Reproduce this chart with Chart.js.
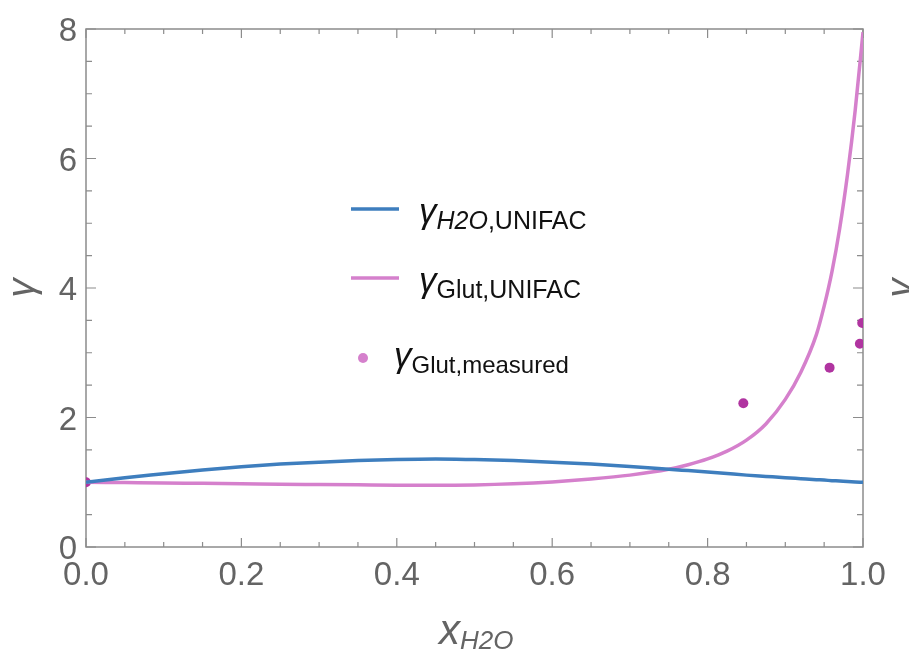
<!DOCTYPE html>
<html>
<head>
<meta charset="utf-8">
<script src="https://cdn.jsdelivr.net/npm/chart.js@4.4.1/dist/chart.umd.min.js"></script>
<style>
  html, body { margin: 0; padding: 0; background: #fff; }
  #wrap { width: 909px; height: 651px; }
</style>
</head>
<body>
<div id="wrap"><canvas id="gammaChart"></canvas></div>
<script>
// mole fraction of water and UNIFAC curves
const xGrid = [0, 0.05, 0.1, 0.15, 0.2, 0.25, 0.3, 0.35, 0.4, 0.45, 0.5, 0.55, 0.6, 0.65, 0.7, 0.75,
               0.775, 0.8, 0.825, 0.85, 0.875, 0.9, 0.92, 0.94, 0.95, 0.96, 0.97, 0.98, 0.99, 1.0];
const gammaWaterUnifac = [1.00, 1.07, 1.13, 1.19, 1.24, 1.28, 1.31, 1.335, 1.352, 1.36, 1.35, 1.335, 1.31, 1.28, 1.245, 1.20,
                          1.18, 1.16, 1.135, 1.11, 1.09, 1.07, 1.055, 1.04, 1.033, 1.025, 1.018, 1.01, 1.004, 1.00];
const gammaGlutUnifac = [1.00, 0.995, 0.99, 0.983, 0.977, 0.97, 0.965, 0.96, 0.955, 0.952, 0.958, 0.975, 1.005, 1.05, 1.11, 1.20,
                         1.27, 1.36, 1.48, 1.65, 1.90, 2.28, 2.70, 3.28, 3.72, 4.25, 4.92, 5.75, 6.75, 7.95];

// measured points
const xMeasured = [0, 0.846, 0.957, 0.996, 0.999];
const gammaGlutMeasured = [1.0, 2.22, 2.77, 3.14, 3.46];

const xTicks = [0, 0.2, 0.4, 0.6, 0.8, 1.0];
const yTicks = [0, 2, 4, 6, 8];

const blue = 'rgb(62,126,190)';
const pink = 'rgb(213,128,204)';
const dotColor = 'rgb(176,52,160)';
const axisGray = 'rgb(140,140,140)';
const labelGray = 'rgb(100,100,100)';
const fontFamily = '"Liberation Sans", Arial, sans-serif';

const toPoints = (xs, ys) => xs.map((x, i) => ({ x: x, y: ys[i] }));

// draw a run of text pieces: [text, font, dy]
function drawRuns(ctx, x, y, runs, color) {
    ctx.fillStyle = color;
    ctx.textBaseline = 'alphabetic';
    ctx.textAlign = 'left';
    runs.forEach(r => {
        ctx.font = r[1];
        ctx.fillText(r[0], x, y + (r[2] || 0));
        x += ctx.measureText(r[0]).width;
    });
}

const framePlugin = {
    id: 'frame',
    beforeDatasetsDraw(chart) {
        const { ctx, chartArea: a, scales } = chart;
        ctx.save();
        ctx.strokeStyle = axisGray;
        ctx.lineWidth = 1.5;
        ctx.strokeRect(a.left, a.top, a.right - a.left, a.bottom - a.top);
        ctx.lineWidth = 1.2;
        ctx.beginPath();
        for (let i = 0; i <= 20; i++) {
            const px = scales.x.getPixelForValue(i * 0.05);
            const len = i % 4 === 0 ? 9 : 5;
            ctx.moveTo(px, a.bottom); ctx.lineTo(px, a.bottom - len);
            ctx.moveTo(px, a.top); ctx.lineTo(px, a.top + len);
        }
        for (let i = 0; i <= 16; i++) {
            const py = scales.y.getPixelForValue(i * 0.5);
            const len = i % 4 === 0 ? 10 : 6;
            ctx.moveTo(a.left, py); ctx.lineTo(a.left + len, py);
            ctx.moveTo(a.right, py); ctx.lineTo(a.right - len, py);
        }
        ctx.stroke();
        ctx.restore();
    },
    afterDraw(chart) {
        const { ctx, chartArea: a } = chart;
        ctx.save();
        const gFont = 'italic 35px ' + fontFamily;
        const subFont = '25px ' + fontFamily;
        const subItal = 'italic 25px ' + fontFamily;

        // legend
        ctx.lineWidth = 3.5;
        ctx.strokeStyle = blue;
        ctx.beginPath(); ctx.moveTo(351, 209); ctx.lineTo(399, 209); ctx.stroke();
        drawRuns(ctx, 419, 223, [['γ', gFont], ['H2O', subItal, 6], [',UNIFAC', subFont, 6]], '#111');

        ctx.strokeStyle = pink;
        ctx.beginPath(); ctx.moveTo(351, 278); ctx.lineTo(399, 278); ctx.stroke();
        drawRuns(ctx, 419, 292, [['γ', gFont], ['Glut,UNIFAC', subFont, 6]], '#111');

        ctx.fillStyle = pink;
        ctx.beginPath(); ctx.arc(363, 358, 5, 0, Math.PI * 2); ctx.fill();
        drawRuns(ctx, 394, 367, [['γ', gFont], ['Glut,measured', '24px ' + fontFamily, 6]], '#111');

        // x axis title
        drawRuns(ctx, 439, 644, [['x', 'italic 42px ' + fontFamily], ['H2O', 'italic 26px ' + fontFamily, 5]], labelGray);

        // y axis title (and the cut-off one of the neighbouring panel)
        const midY = (a.top + a.bottom) / 2;
        [27, 906].forEach(cx => {
            ctx.save();
            ctx.translate(cx, midY);
            ctx.rotate(-Math.PI / 2);
            ctx.font = 'italic 38px ' + fontFamily;
            ctx.fillStyle = labelGray;
            ctx.textAlign = 'center';
            ctx.textBaseline = 'middle';
            ctx.fillText('γ', 0, -4);
            ctx.restore();
        });
        ctx.restore();
    }
};

new Chart(document.getElementById('gammaChart'), {
    type: 'scatter',
    data: {
        datasets: [
            {
                label: 'gamma H2O UNIFAC',
                data: toPoints(xGrid, gammaWaterUnifac),
                showLine: true,
                borderColor: blue,
                borderWidth: 3.5,
                pointRadius: 0,
                cubicInterpolationMode: 'monotone'
            },
            {
                label: 'gamma Glut UNIFAC',
                data: toPoints(xGrid, gammaGlutUnifac),
                showLine: true,
                borderColor: pink,
                borderWidth: 3.5,
                pointRadius: 0,
                cubicInterpolationMode: 'monotone'
            },
            {
                label: 'gamma Glut measured',
                data: toPoints(xMeasured, gammaGlutMeasured),
                showLine: false,
                pointRadius: 5,
                pointBackgroundColor: dotColor,
                pointBorderWidth: 0,
                clip: 0
            }
        ]
    },
    options: {
        responsive: true,
        maintainAspectRatio: false,
        animation: false,
        layout: { padding: { top: 29, right: 46, left: 0, bottom: 0 } },
        plugins: {
            legend: { display: false },
            tooltip: { enabled: false }
        },
        scales: {
            x: {
                type: 'linear',
                min: 0,
                max: 1,
                afterFit: s => { s.height = 104; },
                afterBuildTicks: s => { s.ticks = xTicks.map(v => ({ value: v })); },
                grid: { display: false, drawTicks: false },
                border: { display: false },
                ticks: {
                    color: labelGray,
                    padding: 9,
                    maxRotation: 0,
                    autoSkip: false,
                    font: { family: fontFamily, size: 33 },
                    callback: v => v.toFixed(1)
                }
            },
            y: {
                type: 'linear',
                min: 0,
                max: 8,
                afterFit: s => { s.width = 86; },
                afterBuildTicks: s => { s.ticks = yTicks.map(v => ({ value: v })); },
                grid: { display: false, drawTicks: false },
                border: { display: false },
                ticks: {
                    color: labelGray,
                    padding: 9,
                    labelOffset: 3,
                    font: { family: fontFamily, size: 33 },
                    callback: v => String(v)
                }
            }
        }
    },
    plugins: [framePlugin]
});
</script>
</body>
</html>
